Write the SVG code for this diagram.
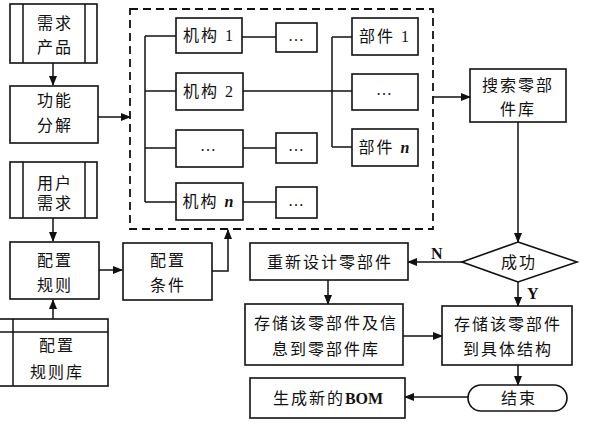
<svg xmlns="http://www.w3.org/2000/svg" width="604" height="427" viewBox="0 0 604 427">
<defs>
<marker id="ah" markerWidth="10" markerHeight="8" refX="9" refY="4" orient="auto" markerUnits="userSpaceOnUse">
<path d="M0,0 L10,4 L0,8 Z" fill="#111"/>
</marker>
<style>
.b{fill:#fff;stroke:#111;stroke-width:1.6}
.l{fill:none;stroke:#111;stroke-width:1.5}
.a{fill:none;stroke:#111;stroke-width:1.5;marker-end:url(#ah)}
.d{fill:none;stroke:#111;stroke-width:1.8;stroke-dasharray:8 5}
.t{font-family:"Liberation Serif","Noto Sans CJK SC",serif;font-size:16px;fill:#111;text-anchor:middle;letter-spacing:2px}
.e{font-family:"Liberation Serif",serif;font-size:16px;fill:#111;font-weight:bold}
</style>
</defs>
<rect width="604" height="427" fill="#fff"/>

<g id="frame"><rect class="d" x="130" y="9" width="303" height="220"/></g>

<g id="n_xuqiu">
<rect class="b" x="10" y="4" width="87" height="59"/>
<line class="l" x1="23" y1="4" x2="23" y2="63"/><line class="l" x1="85" y1="4" x2="85" y2="63"/>
<text class="t" x="55" y="29">需求</text><text class="t" x="55" y="53">产品</text>
</g>
<g id="n_gongneng">
<rect class="b" x="10" y="86" width="88" height="57"/>
<text class="t" x="55" y="106">功能</text><text class="t" x="55" y="131">分解</text>
</g>
<g id="n_yonghu">
<rect class="b" x="10" y="162" width="87" height="56"/>
<line class="l" x1="23" y1="162" x2="23" y2="218"/><line class="l" x1="85" y1="162" x2="85" y2="218"/>
<text class="t" x="55" y="189">用户</text><text class="t" x="55" y="209">需求</text>
</g>
<g id="n_guize">
<rect class="b" x="10" y="242" width="89" height="57"/>
<text class="t" x="55" y="266">配置</text><text class="t" x="55" y="291">规则</text>
</g>
<g id="n_tiaojian">
<rect class="b" x="123" y="243" width="89" height="57"/>
<text class="t" x="168" y="266">配置</text><text class="t" x="168" y="291">条件</text>
</g>
<g id="n_guizeku">
<rect class="b" x="-2" y="319" width="110" height="67"/>
<line class="l" x1="-2" y1="332" x2="108" y2="332"/><line class="l" x1="13" y1="319" x2="13" y2="386"/>
<text class="t" x="57" y="351">配置</text><text class="t" x="57" y="378">规则库</text>
</g>

<g id="n_jigou1"><rect class="b" x="176" y="18" width="66" height="35"/><text class="t" x="209" y="41">机构 <tspan font-family="Liberation Serif">1</tspan></text></g>
<g id="n_jigou2"><rect class="b" x="176" y="73" width="67" height="37"/><text class="t" x="209" y="97">机构 <tspan font-family="Liberation Serif">2</tspan></text></g>
<g id="n_jigou3"><rect class="b" x="176" y="130" width="67" height="37"/><text class="t" x="209" y="151">…</text></g>
<g id="n_jigoun"><rect class="b" x="176" y="183" width="67" height="37"/><text class="t" x="209" y="207">机构 <tspan font-family="Liberation Serif" font-style="italic" font-weight="bold">n</tspan></text></g>

<g id="n_dots1"><rect class="b" x="276" y="23" width="41" height="29"/><text class="t" x="297" y="41">…</text></g>
<g id="n_dots3"><rect class="b" x="276" y="133" width="41" height="30"/><text class="t" x="297" y="151">…</text></g>
<g id="n_dotsn"><rect class="b" x="276" y="187" width="41" height="31"/><text class="t" x="297" y="206">…</text></g>

<g id="n_bujian1"><rect class="b" x="352" y="18" width="66" height="37"/><text class="t" x="385" y="42">部件 <tspan font-family="Liberation Serif">1</tspan></text></g>
<g id="n_bujian2"><rect class="b" x="352" y="74" width="66" height="36"/><text class="t" x="385" y="95">…</text></g>
<g id="n_bujiann"><rect class="b" x="352" y="129" width="66" height="37"/><text class="t" x="385" y="153">部件 <tspan font-family="Liberation Serif" font-style="italic" font-weight="bold">n</tspan></text></g>

<g id="n_sousuo">
<rect class="b" x="470" y="69" width="96" height="53"/>
<text class="t" x="518" y="91">搜索零部</text><text class="t" x="518" y="115">件库</text>
</g>
<g id="n_chenggong">
<polygon class="b" points="518,242 577,262 518,282 462,262"/>
<text class="t" x="519" y="268">成功</text>
</g>
<g id="n_chongxin">
<rect class="b" x="250" y="243" width="158" height="37"/>
<text class="t" x="330" y="268">重新设计零部件</text>
</g>
<g id="n_cunchu1">
<rect class="b" x="245" y="304" width="158" height="61"/>
<text class="t" x="326" y="329">存储该零部件及信</text><text class="t" x="326" y="355">息到零部件库</text>
</g>
<g id="n_cunchu2">
<rect class="b" x="442" y="306" width="130" height="59"/>
<text class="t" x="508" y="330">存储该零部件</text><text class="t" x="508" y="355">到具体结构</text>
</g>
<g id="n_jieshu">
<rect class="b" x="468" y="385" width="99" height="26" rx="13" ry="13"/>
<text class="t" x="519" y="404">结束</text>
</g>
<g id="n_bom">
<rect class="b" x="250" y="378" width="155" height="40"/>
<text class="t" x="328" y="404">生成新的<tspan font-family="Liberation Serif" font-weight="bold" letter-spacing="0">BOM</tspan></text>
</g>

<g id="connectors">
<line class="a" x1="53" y1="63" x2="53" y2="85"/>
<line class="a" x1="98" y1="117" x2="130" y2="117"/>
<line class="a" x1="53" y1="218" x2="53" y2="241"/>
<line class="a" x1="53" y1="319" x2="53" y2="300"/>
<line class="a" x1="99" y1="270" x2="122" y2="270"/>
<polyline class="a" points="212,271 228,271 228,230"/>
<line class="l" x1="145" y1="36" x2="145" y2="202"/>
<line class="l" x1="145" y1="36" x2="176" y2="36"/>
<line class="l" x1="145" y1="91" x2="176" y2="91"/>
<line class="l" x1="145" y1="148" x2="176" y2="148"/>
<line class="l" x1="145" y1="202" x2="176" y2="202"/>
<line class="l" x1="242" y1="37" x2="276" y2="37"/>
<line class="l" x1="243" y1="148" x2="276" y2="148"/>
<line class="l" x1="243" y1="202" x2="276" y2="202"/>
<line class="l" x1="243" y1="91" x2="352" y2="91"/>
<line class="l" x1="332" y1="37" x2="332" y2="147"/>
<line class="l" x1="332" y1="37" x2="352" y2="37"/>
<line class="l" x1="332" y1="147" x2="352" y2="147"/>
<line class="a" x1="433" y1="97" x2="470" y2="97"/>
<line class="a" x1="518" y1="122" x2="518" y2="242"/>
<line class="a" x1="462" y1="262" x2="408" y2="262"/>
<line class="a" x1="328" y1="280" x2="328" y2="304"/>
<line class="a" x1="403" y1="336" x2="442" y2="336"/>
<line class="a" x1="518" y1="282" x2="518" y2="306"/>
<line class="a" x1="518" y1="365" x2="518" y2="385"/>
<line class="a" x1="468" y1="397" x2="405" y2="397"/>
<text class="e" x="431" y="259">N</text>
<text class="e" x="527" y="299">Y</text>
</g>
</svg>
